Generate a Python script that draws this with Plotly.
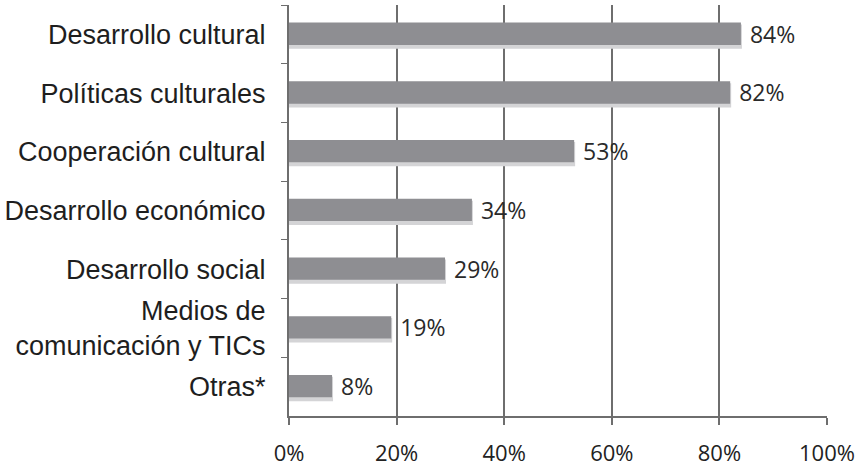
import plotly.graph_objects as go

categorias = ["Desarrollo cultural", "Políticas culturales", "Cooperación cultural",
              "Desarrollo económico", "Desarrollo social",
              "Medios de<br>comunicación y TICs", "Otras*"]
valores = [84, 82, 53, 34, 29, 19, 8]
etiquetas = [f"{v}%" for v in valores]
ticks_x = [0, 20, 40, 60, 80, 100]
ticks_x_txt = [f"{t}%" for t in ticks_x]

fig = go.Figure()
# sombra
fig.add_trace(go.Bar(x=valores, y=categorias, orientation="h", width=0.38, offset=-0.15,
                     marker=dict(color="#d4d4d6", line=dict(color="#d4d4d6", width=2)),
                     hoverinfo="skip", showlegend=False))
fig.add_trace(go.Bar(x=valores, y=categorias, orientation="h", width=0.38, offset=-0.2,
                     marker=dict(color="#8e8e92", line=dict(width=0)),
                     text=etiquetas, texttemplate=" %{text}", textposition="outside",
                     cliponaxis=False, constraintext="none",
                     textfont=dict(family="Open Sans", size=23, color="#2a2a2a"),
                     showlegend=False))

fig.update_layout(
    width=862, height=468, barmode="overlay",
    margin=dict(l=289, r=35, t=5, b=52, autoexpand=False),
    plot_bgcolor="white", paper_bgcolor="white",
    xaxis=dict(range=[0, 100], tickvals=ticks_x, ticktext=ticks_x_txt,
               showgrid=True, gridcolor="#6e6e6e", gridwidth=2,
               showline=True, linecolor="#6e6e6e", linewidth=2,
               ticks="outside", ticklen=7, tickcolor="#6e6e6e", tickwidth=2,
               ticklabelstandoff=10, automargin=False,
               tickfont=dict(family="Open Sans", size=22, color="#222222"),
               zeroline=False, fixedrange=True),
    yaxis=dict(autorange="reversed", categoryorder="array", categoryarray=categorias,
               showline=True, linecolor="#6e6e6e", linewidth=2,
               ticks="outside", tickson="boundaries", ticklen=6, tickcolor="#6e6e6e",
               ticklabelstandoff=16, automargin=False,
               tickfont=dict(family="Liberation Sans", size=27, color="#1e1e1e"),
               showgrid=False, fixedrange=True),
)

fig.write_html("out.html", config={"displayModeBar": False},
               post_script="document.body.style.margin='0';")
